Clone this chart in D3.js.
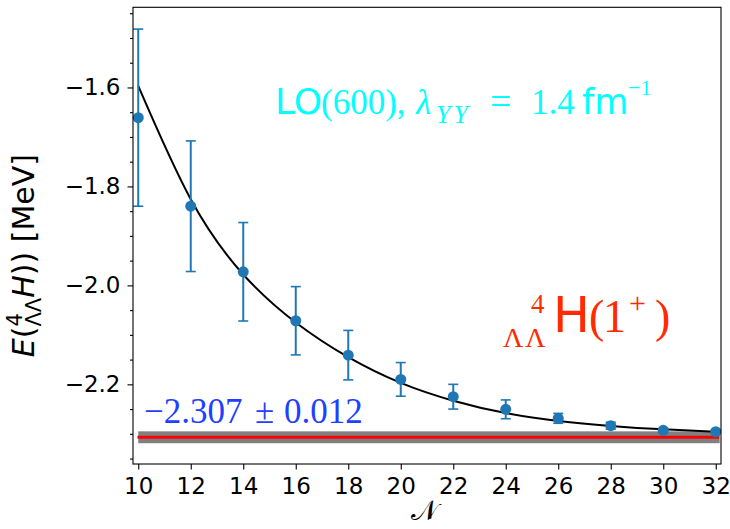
<!DOCTYPE html>
<html>
<head>
<meta charset="utf-8">
<script src="https://cdn.jsdelivr.net/npm/d3@7"></script>
<style>
  body { margin: 0; background: #fff; }
</style>
</head>
<body>
<svg id="chart" width="730" height="529"></svg>
<script>
// basis size N and energies
const nValues  = [10, 12, 14, 16, 18, 20, 22, 24, 26, 28, 30, 32];
const energies = [-1.661, -1.840, -1.9725, -2.0715, -2.141, -2.190, -2.225, -2.2505, -2.2687, -2.2836, -2.293, -2.2958];
const errors   = [0.179, 0.132, 0.0995, 0.069, 0.050, 0.034, 0.025, 0.019, 0.010, 0.007, 0.004, 0.003];

// fitted curve
const fitN = [10, 12, 14, 16, 18, 20, 22, 24, 26, 28, 30, 32];
const fitE = [-1.597, -1.826, -1.978, -2.075, -2.145, -2.197, -2.233, -2.258, -2.274, -2.284, -2.291, -2.296];

// extrapolated value and its band
const extrapolated = -2.307;
const extrapolatedErr = 0.012;

const xTicks = [10, 12, 14, 16, 18, 20, 22, 24, 26, 28, 30, 32];
const yTicks = [-2.2, -2.0, -1.8, -1.6];
const yMinorTicks = [-2.35, -2.3, -2.25, -2.15, -2.1, -2.05, -1.95, -1.9, -1.85, -1.75, -1.7, -1.65, -1.55, -1.5, -1.45];

const svg = d3.select("#chart");
const axLeft = 133, axRight = 721, axTop = 7.3, axBottom = 464;

const x = d3.scaleLinear().domain([9.8, 32.2]).range([axLeft, axRight]);
const y = d3.scaleLinear().domain([-2.361, -1.438]).range([axBottom, axTop]);

const sans = "DejaVu Sans, sans-serif";
const serif = "Liberation Serif, DejaVu Serif, serif";

// band + red line
svg.append("rect")
  .attr("x", x(10))
  .attr("width", x(32.15) - x(10))
  .attr("y", y(extrapolated + extrapolatedErr))
  .attr("height", y(extrapolated - extrapolatedErr) - y(extrapolated + extrapolatedErr))
  .attr("fill", "#808080");

svg.append("line")
  .attr("x1", x(9.97)).attr("x2", x(32.13))
  .attr("y1", y(extrapolated)).attr("y2", y(extrapolated))
  .attr("stroke", "#ff0000").attr("stroke-width", 3);

// fit curve
const line = d3.line()
  .x((d, i) => x(fitN[i]))
  .y(d => y(d))
  .curve(d3.curveNatural);

svg.append("path")
  .attr("d", line(fitE))
  .attr("fill", "none")
  .attr("stroke", "#000")
  .attr("stroke-width", 2);

// error bars
const blue = "#1f77b4";
const bars = svg.append("g").attr("stroke", blue);
nValues.forEach((n, i) => {
  const cx = x(n);
  const y0 = y(energies[i] - errors[i]), y1 = y(energies[i] + errors[i]);
  bars.append("line").attr("x1", cx).attr("x2", cx).attr("y1", y0).attr("y2", y1).attr("stroke-width", 2);
  bars.append("line").attr("x1", cx - 5).attr("x2", cx + 5).attr("y1", y0).attr("y2", y0).attr("stroke-width", 1.6);
  bars.append("line").attr("x1", cx - 5).attr("x2", cx + 5).attr("y1", y1).attr("y2", y1).attr("stroke-width", 1.6);
});

svg.append("g").selectAll("circle")
  .data(nValues)
  .join("circle")
  .attr("cx", d => x(d))
  .attr("cy", (d, i) => y(energies[i]))
  .attr("r", 5.5)
  .attr("fill", blue);

// axes
const xAxis = svg.append("g")
  .attr("transform", `translate(0,${axBottom})`)
  .call(d3.axisBottom(x).tickValues(xTicks).tickSize(5.5).tickPadding(8).tickFormat(d3.format("d")));

const yAxis = svg.append("g")
  .attr("transform", `translate(${axLeft},0)`)
  .call(d3.axisLeft(y).tickValues(yTicks).tickSize(5.5).tickPadding(7).tickFormat(d3.format(".1f")));

const yMinor = svg.append("g")
  .attr("transform", `translate(${axLeft},0)`)
  .call(d3.axisLeft(y).tickValues(yMinorTicks).tickSize(3).tickFormat(""));

[xAxis, yAxis, yMinor].forEach(a => {
  a.select(".domain").remove();
  a.selectAll(".tick line").attr("stroke", "#000").attr("stroke-width", 1.1);
  a.selectAll(".tick text").attr("font-family", sans).attr("font-size", 23).attr("fill", "#000");
});

svg.append("rect")
  .attr("x", axLeft).attr("y", axTop)
  .attr("width", axRight - axLeft).attr("height", axBottom - axTop)
  .attr("fill", "none").attr("stroke", "#000").attr("stroke-width", 1.1);

// annotations, each piece placed on its own
function pieces(color, runs) {
  const g = svg.append("g").attr("fill", color);
  runs.forEach(r => {
    g.append("text")
      .attr("x", r.x).attr("y", r.y)
      .attr("font-family", r.f).attr("font-size", r.s)
      .attr("font-style", r.i ? "italic" : null)
      .attr("letter-spacing", r.ls || null)
      .text(r.t);
  });
}

pieces("#00ffff", [
  {t: "LO", x: 275, y: 114.3, f: sans, s: 36},
  {t: "(600),", x: 321, y: 114.3, f: serif, s: 35},
  {t: "λ", x: 416, y: 114.3, f: serif, s: 35, i: true},
  {t: "YY", x: 436, y: 123, f: serif, s: 26, i: true, ls: 3},
  {t: "=", x: 490, y: 114.3, f: serif, s: 38},
  {t: "1.4", x: 531, y: 114.3, f: serif, s: 35},
  {t: "fm", x: 582, y: 114.3, f: sans, s: 35},
  {t: "−1", x: 628, y: 95, f: serif, s: 22}
]);

pieces("#1f40ff", [
  {t: "−2.307", x: 144, y: 423.3, f: serif, s: 35},
  {t: "±", x: 255, y: 423.3, f: serif, s: 35},
  {t: "0.012", x: 284, y: 423.3, f: serif, s: 35}
]);

pieces("#ff2a00", [
  {t: "ΛΛ", x: 503, y: 346.7, f: serif, s: 28, ls: 2},
  {t: "4", x: 531, y: 313.3, f: serif, s: 27},
  {t: "H", x: 553, y: 331.7, f: sans, s: 49},
  {t: "(", x: 589, y: 331.7, f: serif, s: 46},
  {t: "1", x: 603, y: 331.7, f: serif, s: 46},
  {t: "+", x: 629, y: 312.7, f: serif, s: 30},
  {t: ")", x: 655, y: 331.7, f: serif, s: 46}
]);

// x label
svg.append("text")
  .attr("x", 424).attr("y", 520)
  .attr("text-anchor", "middle")
  .attr("font-family", "DejaVu Serif, DejaVu Sans, serif")
  .attr("font-size", 28)
  .text("𝒩");

// y label with stacked scripts
const ylSize = 30, ylScript = 21;
const yl = svg.append("text")
  .attr("transform", `translate(34,${(axTop + axBottom) / 2 + 20}) rotate(-90)`)
  .attr("text-anchor", "middle")
  .attr("font-family", sans)
  .attr("font-size", ylSize)
  .attr("fill", "#000");
yl.append("tspan").attr("font-style", "italic").text("E");
yl.append("tspan").text("(");
const sup = yl.append("tspan").attr("font-size", ylScript).attr("dy", -12).text("4");
const supW = sup.node().getComputedTextLength();
yl.append("tspan").attr("font-size", ylScript).attr("dx", -supW).attr("dy", 19).text("ΛΛ");
yl.append("tspan").attr("font-style", "italic").attr("dy", -7).text("H");
yl.append("tspan").text(")) [MeV]");
</script>
</body>
</html>
